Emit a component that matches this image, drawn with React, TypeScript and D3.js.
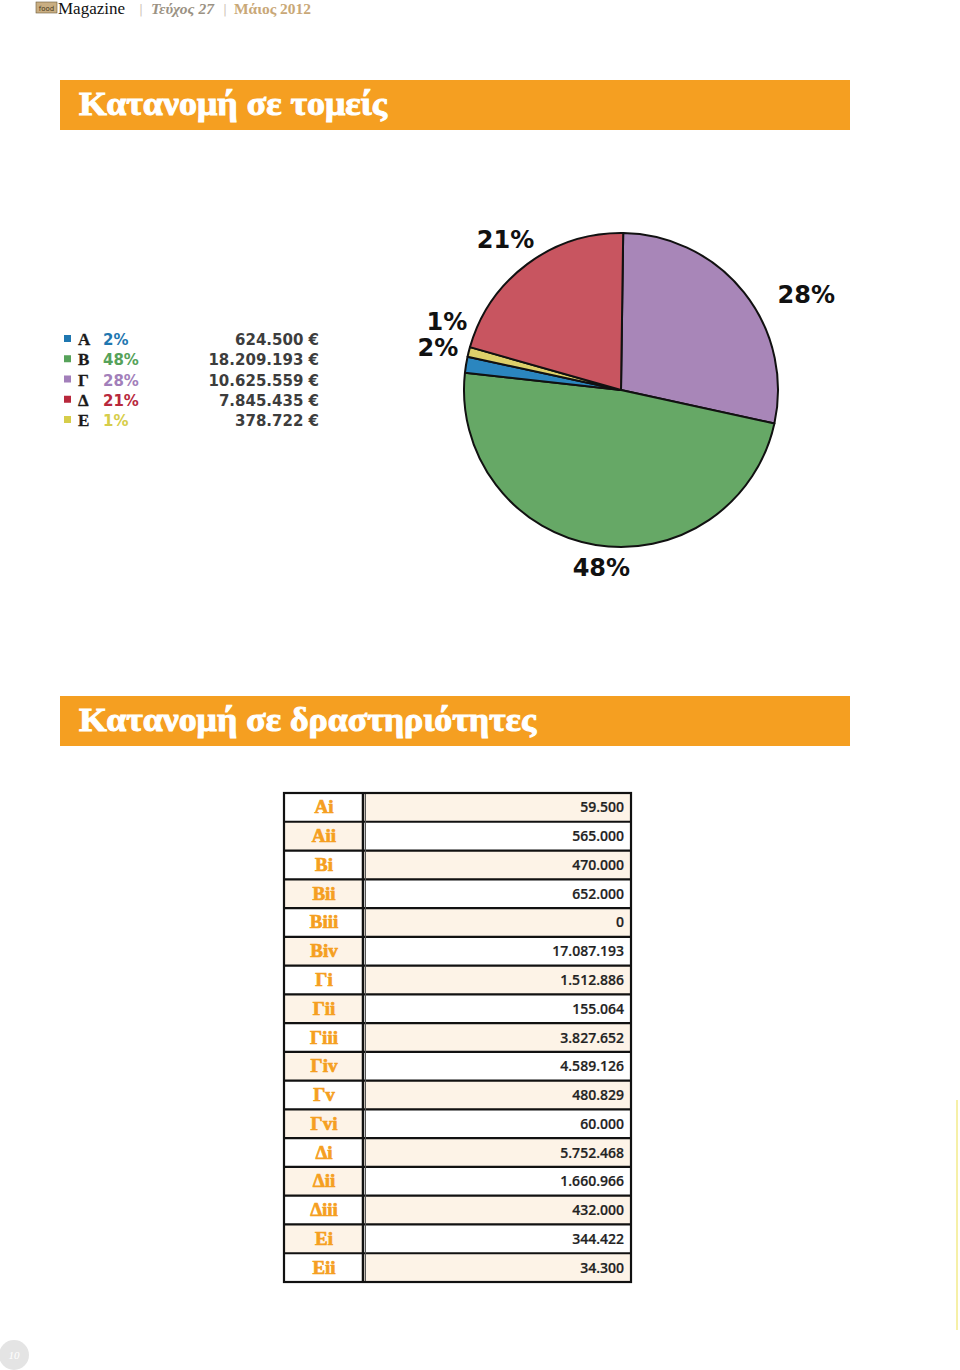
import React from "react";
import * as d3 from "d3";

// ---------- data ----------
const sectorKeys = ["Α", "Β", "Γ", "Δ", "Ε"];
const sectorPercentLabels = ["2%", "48%", "28%", "21%", "1%"];
const sectorValues = [624500, 18209193, 10625559, 7845435, 378722];
const sectorValueLabels = ["624.500 €", "18.209.193 €", "10.625.559 €", "7.845.435 €", "378.722 €"];
// order in which slices run clockwise from 12 o'clock
const pieOrder = ["Γ", "Β", "Α", "Ε", "Δ"];

const activityLabels = [
  "Αi", "Αii", "Βi", "Βii", "Βiii", "Βiv", "Γi", "Γii", "Γiii", "Γiv", "Γv", "Γvi",
  "Δi", "Δii", "Δiii", "Εi", "Εii",
];
const activityValues = [
  59500, 565000, 470000, 652000, 0, 17087193, 1512886, 155064, 3827652, 4589126, 480829,
  60000, 5752468, 1660966, 432000, 344422, 34300,
];

const title1 = "Κατανομή σε τομείς";
const title2 = "Κατανομή σε δραστηριότητες";

// ---------- styles ----------
const pieColors: Record<string, string> = {
  "Α": "#2b86bf",
  "Β": "#66a866",
  "Γ": "#a886b8",
  "Δ": "#c85560",
  "Ε": "#ddd06a",
};
const legendColors: Record<string, string> = {
  "Α": "#1f77b0",
  "Β": "#56a25a",
  "Γ": "#a27fba",
  "Δ": "#b8283c",
  "Ε": "#d6cd4a",
};
// label placement: angular nudge (deg) and radius
const labelLayout: Record<string, { nudge: number; r: number }> = {
  "Γ": { nudge: 11.4, r: 208 },
  "Β": { nudge: -3, r: 179 },
  "Α": { nudge: 3.8, r: 188 },
  "Ε": { nudge: 7.4, r: 187 },
  "Δ": { nudge: -1, r: 189 },
};

const ORANGE = "#f59f21";
const SERIF = "Liberation Serif";
const fmt = (v: number) => (v === 0 ? "0" : d3.format(",")(v).replace(/,/g, "."));

function Pie() {
  const cx = 621, cy = 390, R = 157;
  const data = pieOrder.map((k) => ({
    key: k,
    value: sectorValues[sectorKeys.indexOf(k)],
    label: sectorPercentLabels[sectorKeys.indexOf(k)],
  }));
  const start = (0.8 * Math.PI) / 180;
  const arcs = d3
    .pie<any>()
    .sort(null)
    .value((d) => d.value)
    .startAngle(start)
    .endAngle(start + 2 * Math.PI)(data);
  const arc = d3.arc<any>().innerRadius(0).outerRadius(R);
  return (
    <g transform={`translate(${cx},${cy})`}>
      {arcs.map((a) => (
        <path
          key={a.data.key}
          d={arc(a) as string}
          fill={pieColors[a.data.key]}
          stroke="#111"
          strokeWidth={2}
          strokeLinejoin="round"
        />
      ))}
      {arcs.map((a) => {
        const lay = labelLayout[a.data.key];
        const mid = (a.startAngle + a.endAngle) / 2 + (lay.nudge * Math.PI) / 180;
        const x = lay.r * Math.sin(mid);
        const y = -lay.r * Math.cos(mid);
        return (
          <text
            key={"l" + a.data.key}
            x={x}
            y={y}
            textAnchor="middle"
            dominantBaseline="central"
            fontFamily="DejaVu Sans"
            fontWeight="bold"
            fontSize={24}
            fill="#111"
          >
            {a.data.label}
          </text>
        );
      })}
    </g>
  );
}

function Legend() {
  const y = d3.scalePoint<string>().domain(sectorKeys).range([339, 420]);
  return (
    <g>
      {sectorKeys.map((k, i) => {
        const yy = y(k) as number;
        return (
          <g key={k}>
            <rect x={64} y={yy - 4} width={7} height={7} fill={legendColors[k]} />
            <text x={78} y={yy + 6} fontFamily={SERIF} fontWeight="bold" fontSize={17} fill="#1a1a1a" stroke="#1a1a1a" strokeWidth={0.3}>
              {k}
            </text>
            <text x={103} y={yy + 6} fontFamily="DejaVu Sans" fontWeight="bold" fontSize={15} fill={legendColors[k]}>
              {sectorPercentLabels[i]}
            </text>
            <text x={319} y={yy + 6} textAnchor="end" fontFamily="DejaVu Sans" fontWeight="bold" fontSize={15} fill="#3d3d3d">
              {sectorValueLabels[i]}
            </text>
          </g>
        );
      })}
    </g>
  );
}

function Table() {
  const x0 = 284, xMid = 364, x1 = 631;
  const y = d3.scaleBand<string>().domain(activityLabels).range([793, 1282]);
  const h = y.bandwidth();
  const beige = "#fdf3e7";
  return (
    <g>
      {activityLabels.map((lab, i) => {
        const yy = y(lab) as number;
        const labelBeige = i % 2 === 1;
        return (
          <g key={lab}>
            <rect x={x0} y={yy} width={xMid - x0} height={h} fill={labelBeige ? beige : "#fff"} />
            <rect x={xMid} y={yy} width={x1 - xMid} height={h} fill={labelBeige ? "#fff" : beige} />
            <text
              x={(x0 + xMid) / 2}
              y={yy + h / 2 + 6}
              textAnchor="middle"
              fontFamily={SERIF}
              fontWeight="bold"
              fontSize={19}
              fill={ORANGE}
              stroke={ORANGE}
              strokeWidth={0.7}
            >
              {lab}
            </text>
            <text
              x={624}
              y={yy + h / 2 + 5}
              textAnchor="end"
              fontFamily="Open Sans"
              fontWeight={600}
              fontSize={14}
              fill="#222"
              stroke="#222"
              strokeWidth={0.2}
            >
              {fmt(activityValues[i])}
            </text>
          </g>
        );
      })}
      {activityLabels.slice(1).map((lab) => (
        <line key={"h" + lab} x1={x0} x2={x1} y1={y(lab) as number} y2={y(lab) as number} stroke="#111" strokeWidth={2.2} />
      ))}
      <line x1={xMid - 1} x2={xMid - 1} y1={793} y2={1282} stroke="#111" strokeWidth={2.5} />
      <line x1={xMid + 1.5} x2={xMid + 1.5} y1={793} y2={1282} stroke="#555" strokeWidth={1} />
      <rect x={x0} y={793} width={x1 - x0} height={1282 - 793} fill="none" stroke="#111" strokeWidth={2.2} />
    </g>
  );
}

function TitleBar({ y, text, len }: { y: number; text: string; len: number }) {
  return (
    <g>
      <rect x={60} y={y} width={790} height={50} fill={ORANGE} />
      <text
        x={79}
        y={y + 35}
        fontFamily={SERIF}
        fontWeight="bold"
        fontSize={33}
        fill="#fff"
        stroke="#fff"
        strokeWidth={1}
        textLength={len}
        lengthAdjust="spacingAndGlyphs"
      >
        {text}
      </text>
    </g>
  );
}

export default function App() {
  return (
    <svg
      width={960}
      height={1370}
      viewBox="0 0 960 1370"
      style={{ position: "absolute", left: 0, top: 0, display: "block", background: "#fff" }}
    >
      <rect width={960} height={1370} fill="#fff" />
      {/* header */}
      <rect x={36} y={2} width={21} height={11} fill="#c9ae82" stroke="#6b5a3a" strokeWidth={0.6} />
      <text x={46.5} y={10.5} textAnchor="middle" fontFamily="DejaVu Sans" fontSize={7} fill="#4a3a20">
        food
      </text>
      <text x={58} y={14} fontFamily={SERIF} fontSize={17} fill="#111">
        Magazine
      </text>
      <text x={139} y={14} fontFamily="DejaVu Sans" fontSize={12} fill="#cfc6b8">|</text>
      <text x={151} y={14} fontFamily={SERIF} fontStyle="italic" fontWeight="bold" fontSize={14} fill="#9b9284" textLength={63} lengthAdjust="spacingAndGlyphs">
        Τεύχος 27
      </text>
      <text x={223} y={14} fontFamily="DejaVu Sans" fontSize={12} fill="#cfc6b8">|</text>
      <text x={234} y={14} fontFamily={SERIF} fontWeight="bold" fontSize={14} fill="#c9a877" textLength={77} lengthAdjust="spacingAndGlyphs">
        Μάιος 2012
      </text>

      <TitleBar y={80} text={title1} len={308} />
      <Legend />
      <Pie />
      <TitleBar y={696} text={title2} len={457} />
      <Table />

      {/* right edge faint line */}
      <line x1={957} x2={957} y1={1100} y2={1330} stroke="#f6f0a8" strokeWidth={2} />
      {/* page number */}
      <circle cx={14} cy={1355} r={15} fill="#e4e4e4" />
      <text x={14} y={1359} textAnchor="middle" fontFamily={SERIF} fontStyle="italic" fontSize={11} fill="#fff">
        10
      </text>
    </svg>
  );
}
